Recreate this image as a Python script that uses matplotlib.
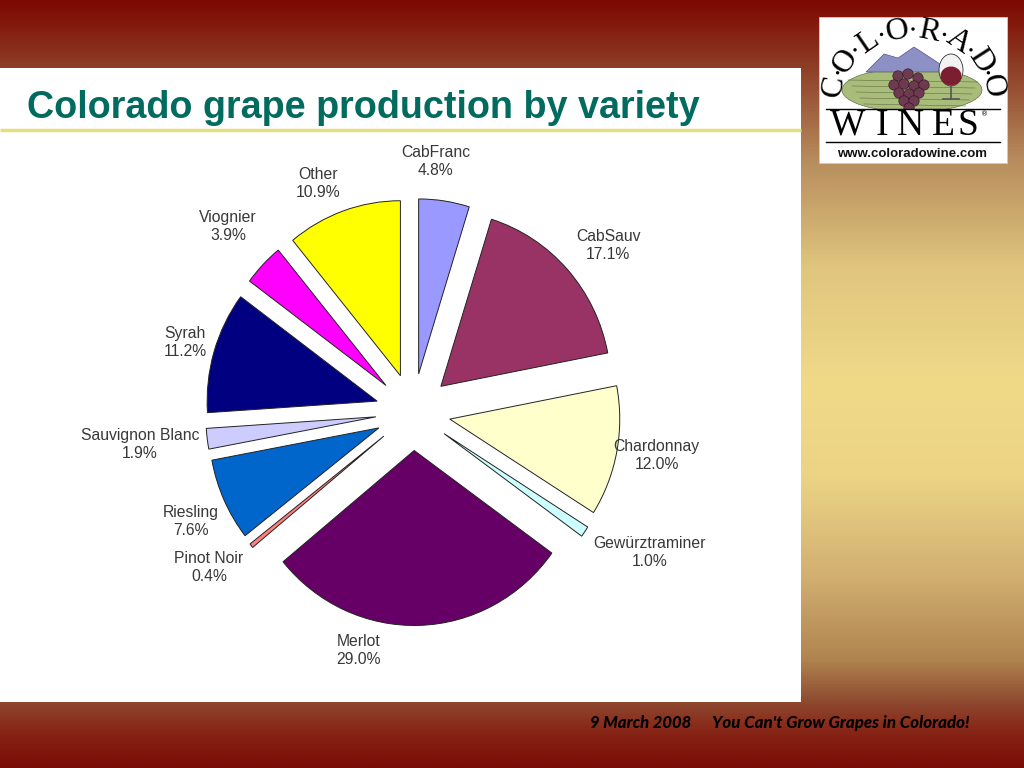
import numpy as np
import matplotlib
matplotlib.use('Agg')
import matplotlib.pyplot as plt
from matplotlib.colors import LinearSegmentedColormap
from matplotlib.patches import Rectangle, Polygon, Ellipse, Circle

# ---------------- data ----------------
varieties = ['CabFranc', 'CabSauv', 'Chardonnay', 'Gewürztraminer', 'Merlot',
             'Pinot Noir', 'Riesling', 'Sauvignon Blanc', 'Syrah', 'Viognier', 'Other']
shares = [4.8, 17.1, 12.0, 1.0, 29.0, 0.4, 7.6, 1.9, 11.2, 3.9, 10.9]
colors = ['#9999FF', '#993366', '#FFFFCC', '#CCFFFF', '#660066', '#FF8080',
          '#0066CC', '#CCCCFF', '#000080', '#FF00FF', '#FFFF00']

title = 'Colorado grape production by variety'
footer_date = '9 March 2008'
footer_text = "You Can't Grow Grapes in Colorado!"
logo_arch = 'COLORADO'
logo_word = 'WINES'
logo_url = 'www.coloradowine.com'

# label placement: distance (in radii) and angular tweak (deg) from wedge middle
label_dist = [1.435, 1.492, 1.456, 1.604, 1.401, 1.493, 1.446, 1.618, 1.400, 1.518, 1.419]
label_dang = [3.4, -2.1, 0.7, 4.1, -15.1, -2.3, 1.2, -0.6, -0.1, -0.6, 3.6]

W, H = 1024, 768
fig = plt.figure(figsize=(W / 100, H / 100), dpi=100)

# ---------------- background slide ----------------
bg = fig.add_axes([0, 0, 1, 1])
bg.set_xlim(0, W)
bg.set_ylim(0, H)
bg.axis('off')

stops = [(0.00, '#7C0A02'), (0.03, '#841A0E'), (0.08, '#8C3A24'), (0.21, '#B88E5E'),
         (0.35, '#E0C67E'), (0.50, '#F0DA88'), (0.62, '#ECD484'), (0.75, '#D2B072'),
         (0.86, '#B0844F'), (0.915, '#8E4A30'), (0.95, '#882818'), (1.00, '#7A0C06')]
cmap = LinearSegmentedColormap.from_list('slide', stops)
grad = np.linspace(0, 1, 512)[:, None]
bg.imshow(grad, extent=(0, W, 0, H), aspect='auto', cmap=cmap, origin='upper',
          zorder=0, interpolation='bilinear')

def Y(y):
    return H - y

# white panel
bg.add_patch(Rectangle((0, Y(702)), 801, 702 - 68, facecolor='white', edgecolor='none', zorder=1))
# title & rule
bg.text(27, Y(118), title, fontsize=27.2, fontweight='bold', color='#006B5E',
        family='Liberation Sans', ha='left', va='baseline', zorder=2)
bg.plot([0, 801], [Y(130), Y(130)], color='#E6E07C', lw=2.5, zorder=2, solid_capstyle='butt')

# ---------------- logo ----------------
bg.add_patch(Rectangle((819, Y(163)), 188, 146, facecolor='white', edgecolor='#cccccc', lw=0.6, zorder=2))
# landscape
bg.add_patch(Ellipse((912, Y(90)), 140, 44, facecolor='#A9BC7A', edgecolor='#4a5a30', lw=0.4, zorder=3))
bg.add_patch(Polygon([(866, Y(72)), (884, Y(54)), (898, Y(58)), (914, Y(47)), (934, Y(60)),
                      (952, Y(72))], closed=True, facecolor='#8C90C4', edgecolor='#40406a',
                     lw=0.4, zorder=3))
for k in range(5):
    bg.plot([848 + k * 4, 978 - k * 3], [Y(80 + k * 6), Y(82 + k * 6)], color='#5f7040', lw=0.4, zorder=3)
grape_pts = [(898, 76), (908, 74), (918, 78), (894, 85), (904, 84), (914, 86), (924, 85),
             (899, 93), (909, 94), (919, 93), (904, 101), (914, 101), (909, 108)]
for (gx, gy) in grape_pts:
    bg.add_patch(Circle((gx, Y(gy)), 5.2, facecolor='#6E3A50', edgecolor='#2a1020', lw=0.4, zorder=4))
bg.add_patch(Ellipse((951, Y(70)), 24, 32, facecolor='#F2F2F2', edgecolor='#333', lw=0.6, zorder=4))
bg.add_patch(Ellipse((951, Y(76)), 21, 19, facecolor='#7A1E30', edgecolor='none', zorder=4))
bg.plot([951, 951], [Y(86), Y(99)], color='#555', lw=1.2, zorder=4)
bg.plot([943, 959], [Y(99), Y(99)], color='#555', lw=1.2, zorder=4)

# arched letters
cx, cy, rx, ry = 913, 98, 80, 68
angs = np.linspace(170, 10, len(logo_arch))
for ch, a in zip(logo_arch, angs):
    t = np.deg2rad(a)
    bg.text(cx + rx * np.cos(t), Y(cy - ry * np.sin(t)), ch, fontsize=23,
            family='Liberation Serif', rotation=a - 90, ha='center', va='center',
            color='black', zorder=5)
for a in (angs[:-1] + angs[1:]) / 2:
    t = np.deg2rad(a)
    bg.add_patch(Circle((cx + (rx + 1) * np.cos(t), Y(cy - (ry + 1) * np.sin(t))), 1.7,
                        facecolor='black', edgecolor='none', zorder=5))
# WINES
bg.add_patch(Rectangle((819.5, Y(140)), 187, 31, facecolor='white', edgecolor='none', zorder=4.5))
bg.plot([826, 1000], [Y(109), Y(109)], color='black', lw=1.0, zorder=5)
bg.plot([826, 1000], [Y(142), Y(142)], color='black', lw=1.0, zorder=5)
wx = [848, 882, 910, 943, 968]
for ch, x in zip(logo_word, wx):
    bg.text(x, Y(125.5), ch, fontsize=27, family='Liberation Serif', ha='center', va='center',
            color='black', zorder=5)
bg.text(985, Y(114), '®', fontsize=5, family='DejaVu Sans', ha='center', va='center', zorder=5)
bg.text(912, Y(154), logo_url, fontsize=9.5, fontweight='bold', family='Liberation Sans',
        ha='center', va='center', color='#111111', zorder=5)

# footer
bg.text(590, Y(723), footer_date, fontsize=12, fontweight='black', style='italic',
        family='Lato', ha='left', va='center', color='black', zorder=2)
bg.text(712, Y(723), footer_text, fontsize=12.2, fontweight='black', style='italic',
        family='Lato', ha='left', va='center', color='black', zorder=2)

# ---------------- pie ----------------
RX, RY = 170.0, 175.0
pcx, pcy = 413, 412
ax = fig.add_axes([(pcx - 2 * RX) / W, (H - pcy - 2 * RY) / H, 4 * RX / W, 4 * RY / H])
wedges, _ = ax.pie(shares, colors=colors, startangle=90, counterclock=False,
                   explode=[0.22] * len(shares), radius=1.0,
                   wedgeprops=dict(edgecolor='#222222', linewidth=0.7))
ax.set_xlim(-2, 2)
ax.set_ylim(-2, 2)
ax.set_aspect('auto')
ax.axis('off')
ax.patch.set_visible(False)

for w, name, val, d, da in zip(wedges, varieties, shares, label_dist, label_dang):
    mid = np.deg2rad((w.theta1 + w.theta2) / 2 + da)
    ax.text(d * np.cos(mid), d * np.sin(mid), f'{name}\n{val:.1f}%',
            ha='center', va='center', fontsize=11.3, linespacing=1.25,
            color='#383838', family='Liberation Sans', clip_on=False)

fig.savefig('out.png', dpi=100)
